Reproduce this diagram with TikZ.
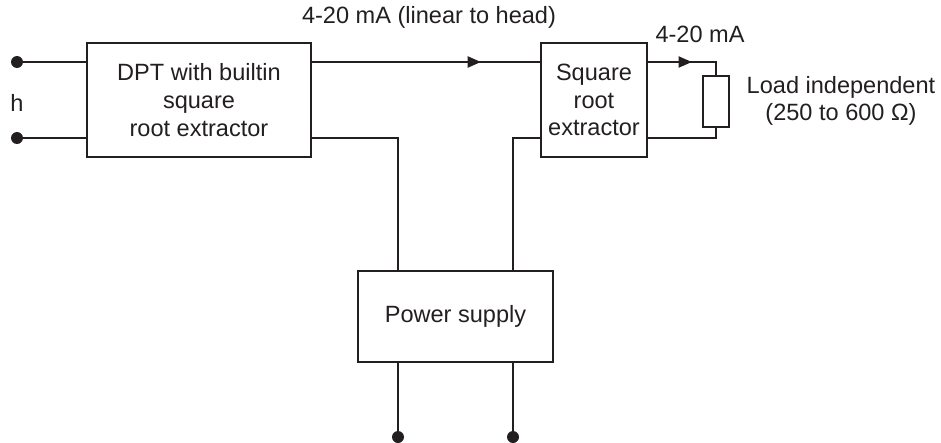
\documentclass[tikz,border=0pt]{standalone}
\usepackage{fontspec}
\setmainfont{Liberation Sans}
\usepackage{tikz}
\usetikzlibrary{arrows.meta,positioning,calc,decorations.markings}
\definecolor{ink}{HTML}{231F20}
\tikzset{
  base/.style={align=center, inner sep=0pt, text=ink, font=\fontsize{13.4}{15.8}\selectfont},
  blk/.style={base, draw=ink, line width=0.8pt, fill=white},
  res/.style={draw=ink, line width=0.8pt, fill=white, minimum width=0.52cm, minimum height=1.02cm, inner sep=0pt},
  wire/.style={line width=0.8pt, draw=ink},
  dot/.style={circle, fill=ink, inner sep=0pt, minimum size=0.24cm},
  lab/.style={base},
  midarr/.style={postaction={decorate}, decoration={markings,
      mark=at position #1 with {\arrow{Triangle[length=7.5pt,width=6.4pt]}}}},
}

\begin{document}
\begin{tikzpicture}[x=0.02cm, y=-0.02cm]
    \useasboundingbox (0,0) rectangle (941,443);
    % blocks
    \node[blk, minimum width=4.48cm, minimum height=2.28cm] (dpt) at (199,100) {DPT with builtin\\square\\root extractor};
    \node[blk, minimum width=2.12cm, minimum height=2.28cm] (sqr) at (594,100) {Square\\root\\extractor};
    \node[blk, minimum width=3.9cm, minimum height=1.82cm] (psu) at (455.5,316.5) {Power supply};
    \node[res] (load) at (716,101.5) {};
    % terminals
    \node[dot] (in1) at (17,62) {};
    \node[dot] (in2) at (17,138) {};
    \node[dot] (out1) at (398,437) {};
    \node[dot] (out2) at (513,437) {};
    % labels
    \node[lab] (h) at (17,103) {h};
    \node[lab] (sig) at (429,17) {4-20 mA (linear to head)};
    \node[lab] (sig2) at (700,34) {4-20 mA};
    \node[lab] (ltxt) at (841,101) {Load independent\\(250 to 600 Ω)};
    % wiring
    \draw[wire] (in1.center) -- (in1 -| dpt.west);
    \draw[wire] (in2.center) -- (in2 -| dpt.west);
    \draw[wire, midarr=0.74] (in1 -| dpt.east) -- (in1 -| sqr.west);
    \draw[wire] (in2 -| dpt.east) -| (psu.north -| out1);
    \draw[wire] (in2 -| sqr.west) -| (psu.north -| out2);
    \draw[wire, midarr=0.54] (in1 -| sqr.east) -| (load.north);
    \draw[wire] (in2 -| sqr.east) -| (load.south);
    \draw[wire] (psu.south -| out1) -- (out1.center);
    \draw[wire] (psu.south -| out2) -- (out2.center);
  \end{tikzpicture}
\end{document}
